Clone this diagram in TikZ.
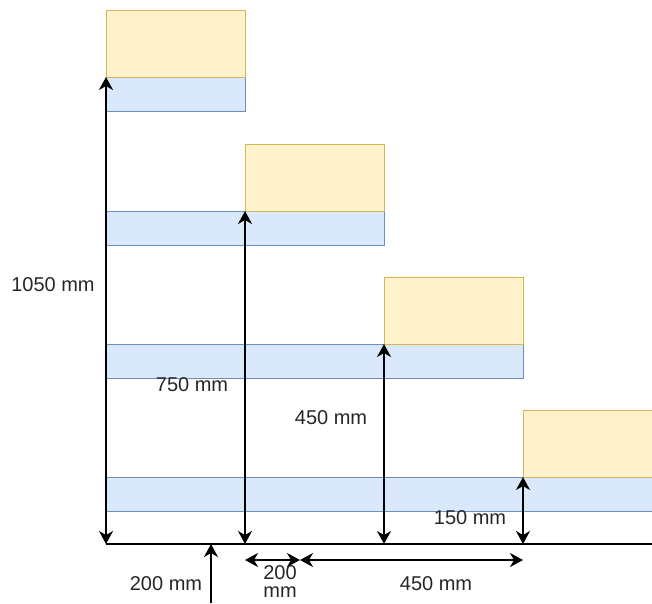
\documentclass[tikz,border=0pt]{standalone}
\usepackage{fontspec}
\setmainfont{Liberation Sans}
\usetikzlibrary{arrows.meta}
\definecolor{yfill}{HTML}{FFF2CC}
\definecolor{ydraw}{HTML}{D6B656}
\definecolor{bfill}{HTML}{DAE8FC}
\definecolor{bdraw}{HTML}{6C8EBF}
\tikzset{
  ybox/.style={draw=ydraw, fill=yfill, line width=1pt, minimum height=67pt, inner sep=0pt, outer sep=0pt, anchor=north west},
  bbox/.style={draw=bdraw, fill=bfill, line width=1pt, minimum height=34pt, inner sep=0pt, outer sep=0pt, anchor=north west},
  dimline/.style={line width=1.7pt, black, {Stealth[length=13pt,width=14pt,inset=4pt]}-{Stealth[length=13pt,width=14pt,inset=4pt]}},
  oneway/.style={line width=1.7pt, black, -{Stealth[length=13pt,width=14pt,inset=4pt]}},
  lbl/.style={font=\fontsize{20}{24}\selectfont, inner sep=0pt, text=black!85}
}
\begin{document}
\begin{tikzpicture}[x=1pt,y=-1pt]
\useasboundingbox (0,0) rectangle (652,603);
\clip (0,0) rectangle (652,603);
% blue bars
\node[bbox, minimum width=139pt] (b1) at (106,77) {};
\node[bbox, minimum width=278pt] (b2) at (106,211) {};
\node[bbox, minimum width=417pt] (b3) at (106,344) {};
\node[bbox, minimum width=560pt] (b4) at (106,477) {};
% yellow boxes
\node[ybox, minimum width=139pt] (y1) at (106,10) {};
\node[ybox, minimum width=139pt] (y2) at (245,144) {};
\node[ybox, minimum width=139pt] (y3) at (384,277) {};
\node[ybox, minimum width=139pt] (y4) at (523,410) {};
% base line
\coordinate (g0) at (106,544);
\coordinate (g1) at (245,544);
\coordinate (g2) at (384,544);
\coordinate (g3) at (523,544);
\coordinate (g4) at (652,544);
\coordinate (gm) at (211,544);
\draw[line width=1.7pt] (g0) -- (g4);
% vertical dimensions
\draw[dimline] (g0) -- (y1.south west);
\draw[dimline] (g1) -- (y2.south west);
\draw[dimline] (g2) -- (y3.south west);
\draw[dimline] (g3) -- (y4.south west);
% bottom dimensions
\coordinate (m0) at (211,603);
\draw[oneway] (m0) -- (gm);
\coordinate (h0) at (245,560);
\coordinate (h1) at (300,560);
\coordinate (h2) at (523,560);
\draw[dimline] (h0) -- (h1);
\draw[dimline] (h1) -- (h2);
% labels
\node[lbl] (t1050) at (53,285) {1050 mm};
\node[lbl] (t750) at (192,385) {750 mm};
\node[lbl] (t450v) at (331,418) {450 mm};
\node[lbl] (t150) at (470,518) {150 mm};
\node[lbl] (t200a) at (166,584) {200 mm};
\node[lbl, anchor=north] (t200b) at (280,565) {200};
\node[lbl, anchor=north] (t200c) at (280,587) {mm};
\node[lbl] (t450h) at (436,584) {450 mm};
\end{tikzpicture}
\end{document}
